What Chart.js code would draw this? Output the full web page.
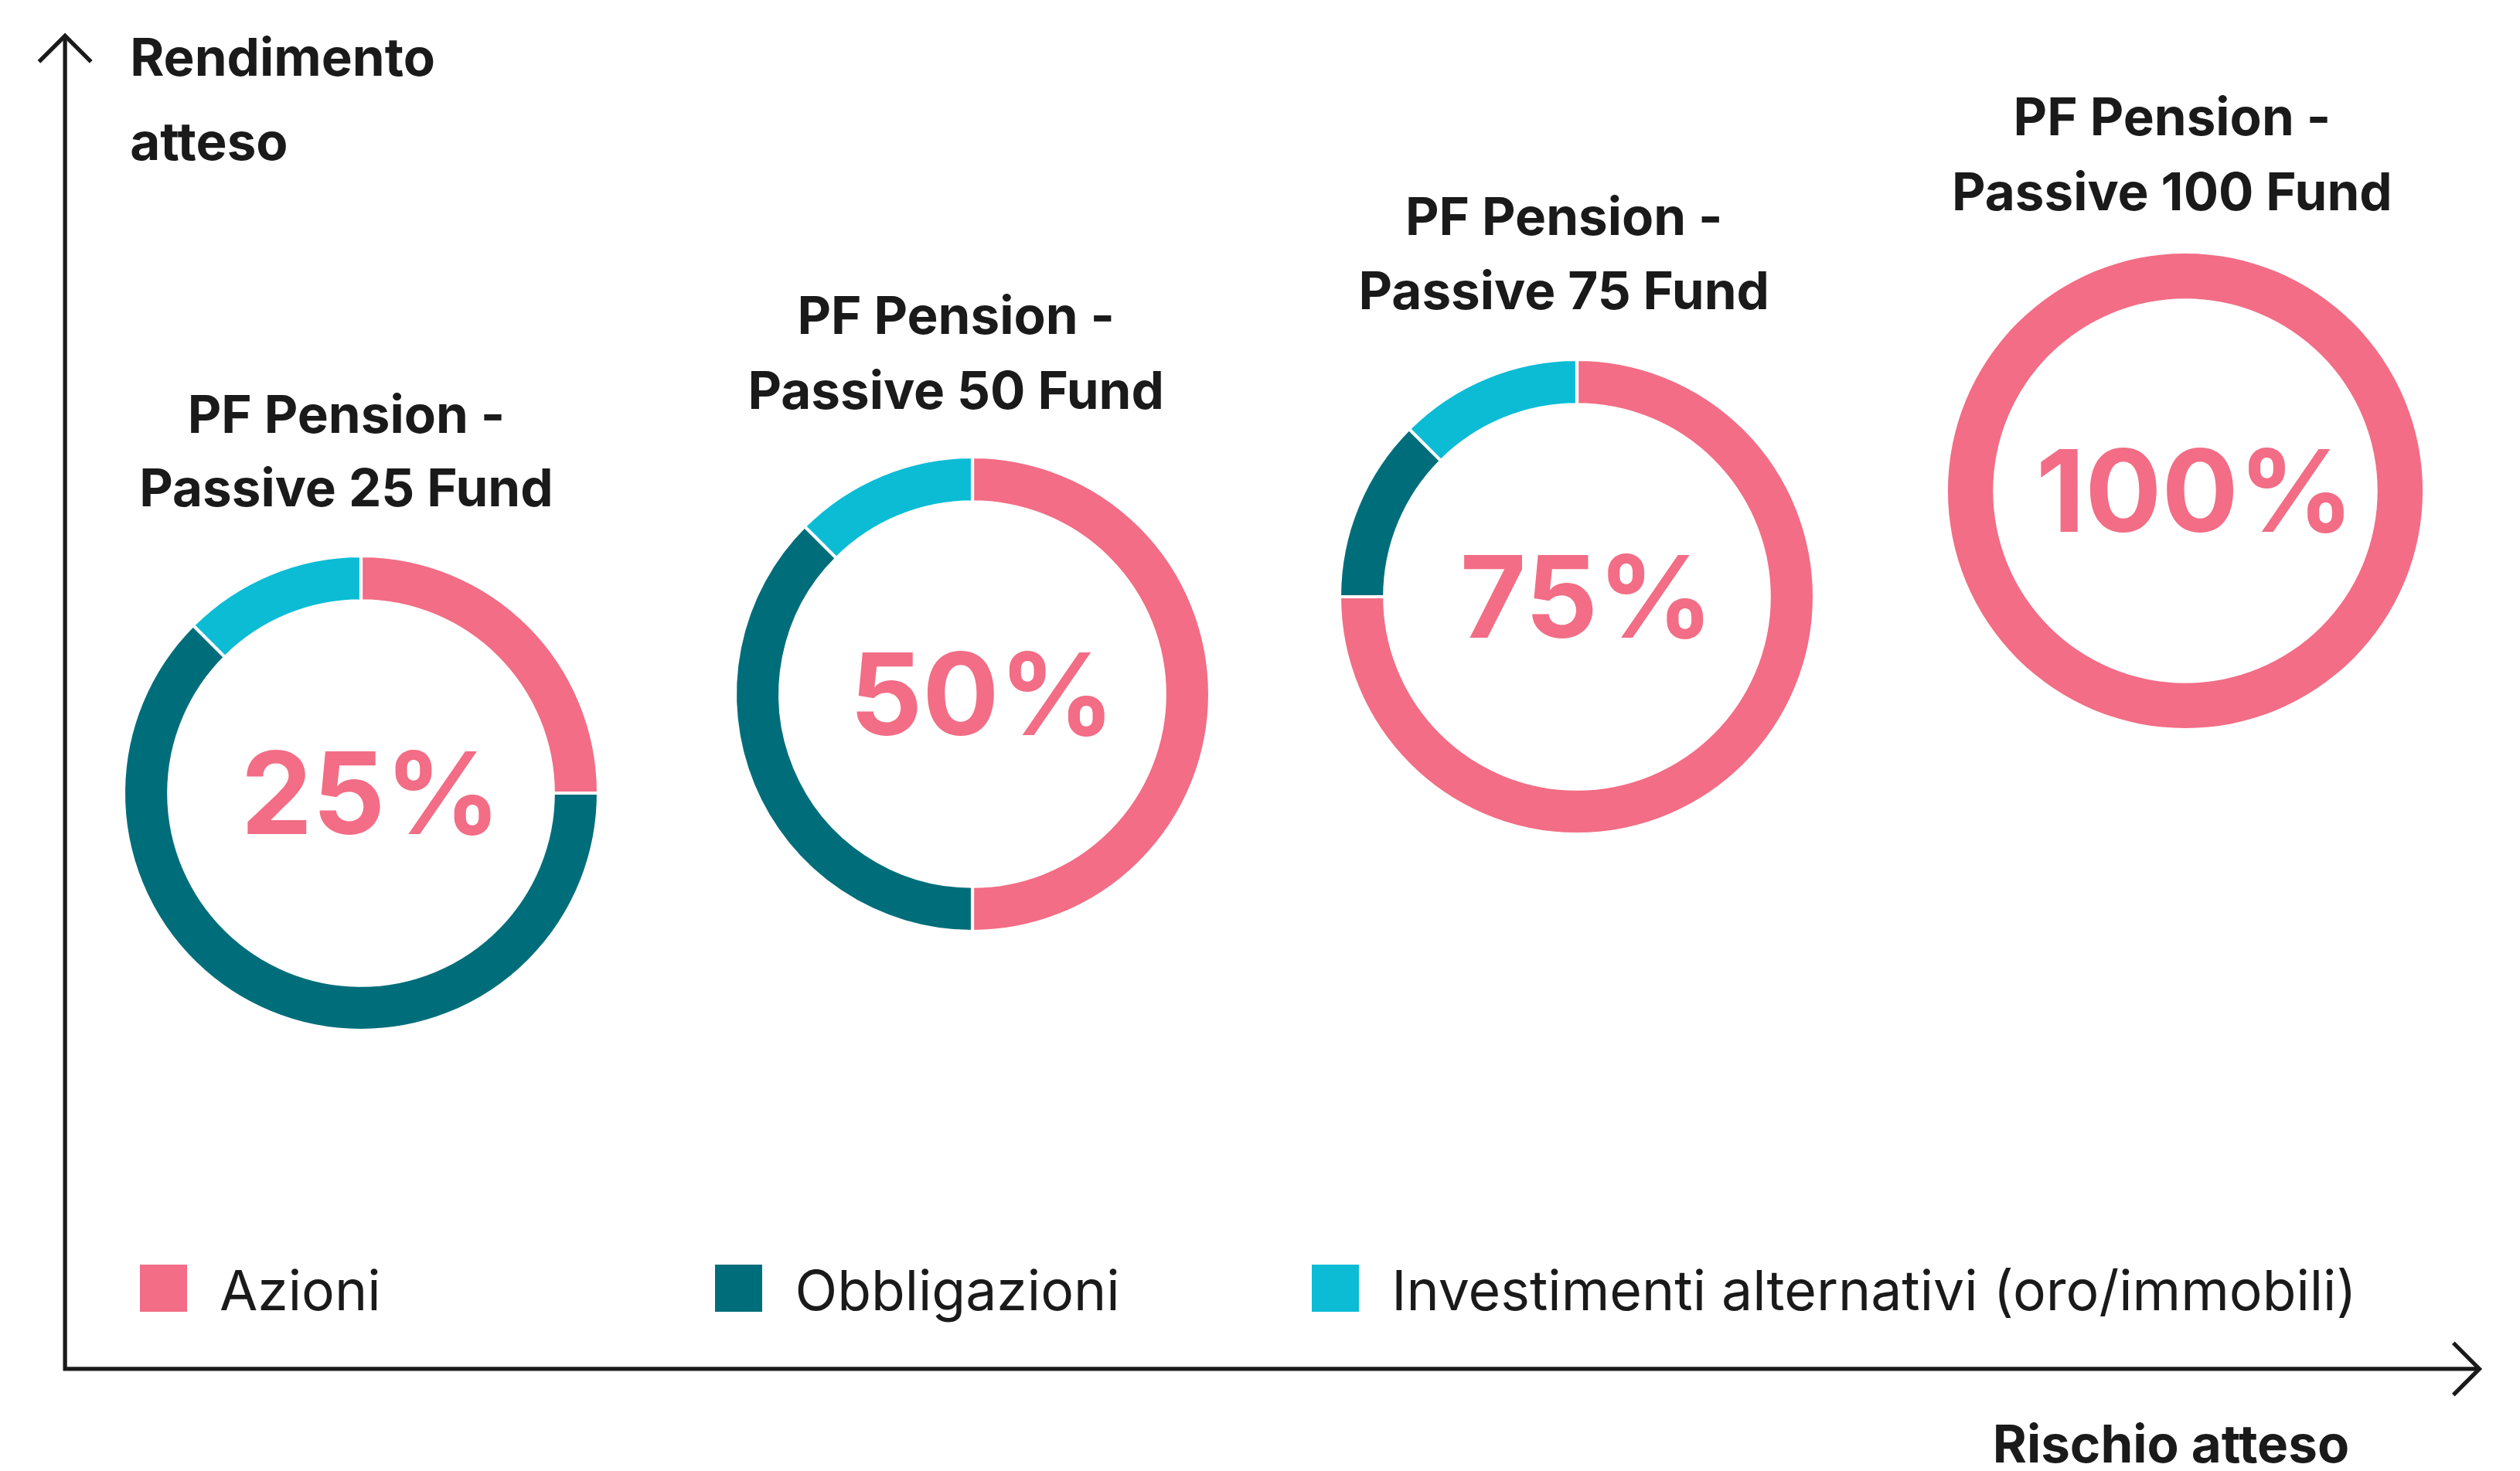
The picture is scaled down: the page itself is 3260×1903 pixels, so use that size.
<!DOCTYPE html>
<html>
<head>
<meta charset="utf-8">
<script src="https://cdn.jsdelivr.net/npm/chart.js@4"></script>
<style>
    body { margin: 0; background: #fff; font-family: Inter, "Noto Sans", sans-serif; color: #1a1a1a; }
    #stage { position: relative; width: 3260px; height: 1903px; overflow: hidden; }
    .abs { position: absolute; }
    .title { font-weight: 700; text-align: center; white-space: nowrap; }
    .legend { font-weight: 400; white-space: nowrap; }
</style>
</head>
<body>
<div id="stage">
    <canvas id="axes" class="abs" width="3260" height="1903" style="left:0;top:0"></canvas>
</div>
<script>
// data
const funds = ['PF Pension - Passive 25 Fund', 'PF Pension - Passive 50 Fund', 'PF Pension - Passive 75 Fund', 'PF Pension - Passive 100 Fund'];
const categories = ['Azioni', 'Obbligazioni', 'Investimenti alternativi (oro/immobili)'];
const azioni = [25, 50, 75, 100];
const obbligazioni = [62.5, 37.5, 12.5, 0];
const alternativi = [12.5, 12.5, 12.5, 0];
const centerLabels = ['25%', '50%', '75%', '100%'];
const colors = ['#F26D85', '#006E7A', '#0CBCD5'];

const S = 3260 / 1550;
const stage = document.getElementById('stage');

// layout in reference display units
const centers = [[222, 488], [598, 427], [970, 367], [1344, 302]];
const titleY = [[255, 300], [194, 240], [133, 179], [72, 118]];
const titleX = [213, 588, 962, 1336];
const R = 146;

function addText(txt, x, y, size, cls, align) {
    const d = document.createElement('div');
    d.className = 'abs ' + cls;
    d.textContent = txt;
    d.style.fontSize = (size * S) + 'px';
    d.style.lineHeight = '1';
    d.style.top = (y * S) + 'px';
    if (align === 'center') {
        d.style.left = (x * S) + 'px';
        d.style.transform = 'translate(-50%, -50%)';
    } else if (align === 'right') {
        d.style.right = (3260 - x * S) + 'px';
        d.style.transform = 'translateY(-50%)';
    } else {
        d.style.left = (x * S) + 'px';
        d.style.transform = 'translateY(-50%)';
    }
    stage.appendChild(d);
}

const centerText = {
    id: 'centerText',
    afterDraw(chart, args, opts) {
        const ctx = chart.ctx;
        const a = chart.getDatasetMeta(0).data[0];
        ctx.save();
        ctx.fillStyle = colors[0];
        ctx.font = '700 ' + (70 * S) + 'px Inter, sans-serif';
        ctx.textAlign = 'center';
        ctx.textBaseline = 'middle';
        ctx.fillText(opts.text, a.x + 6 * S, a.y + 4 * S);
        ctx.restore();
    }
};

funds.forEach((name, i) => {
    const size = (R + 10) * 2 * S;
    const c = document.createElement('canvas');
    c.className = 'abs';
    c.width = size;
    c.height = size;
    c.style.left = (centers[i][0] * S - size / 2) + 'px';
    c.style.top = (centers[i][1] * S - size / 2) + 'px';
    stage.appendChild(c);
    new Chart(c.getContext('2d'), {
        type: 'doughnut',
        data: {
            labels: categories,
            datasets: [{
                data: [azioni[i], obbligazioni[i], alternativi[i]],
                backgroundColor: colors,
                borderColor: '#fff',
                borderWidth: azioni[i] === 100 ? 0 : 2 * S,
                radius: R * S,
                cutout: '81%'
            }]
        },
        options: {
            responsive: false,
            animation: false,
            plugins: { legend: { display: false }, tooltip: { enabled: false }, centerText: { text: centerLabels[i] } }
        },
        plugins: [centerText]
    });
    const parts = name.split(' - ');
    addText(parts[0] + ' -', titleX[i], titleY[i][0], 32, 'title', 'center');
    addText(parts[1], titleX[i], titleY[i][1], 32, 'title', 'center');
});

// axis labels
addText('Rendimento', 80, 35, 32, 'title', 'left');
addText('atteso', 80, 87, 32, 'title', 'left');
addText('Rischio atteso', 1445, 888, 32, 'title', 'right');

// legend
const legendX = [86, 440, 807];
categories.forEach((cat, i) => {
    const sq = document.createElement('div');
    sq.className = 'abs';
    sq.style.left = (legendX[i] * S) + 'px';
    sq.style.top = (778 * S) + 'px';
    sq.style.width = (29 * S) + 'px';
    sq.style.height = (29 * S) + 'px';
    sq.style.background = colors[i];
    stage.appendChild(sq);
    addText(cat, legendX[i] + 49, 794, 34, 'legend', 'left');
});

// axes with open arrowheads
const ctx = document.getElementById('axes').getContext('2d');
ctx.strokeStyle = '#1a1a1a';
ctx.lineWidth = 2.5 * S;
ctx.lineJoin = 'miter';
ctx.beginPath();
ctx.moveTo(40 * S, 22 * S);
ctx.lineTo(40 * S, 842 * S);
ctx.lineTo(1525 * S, 842 * S);
ctx.stroke();
ctx.beginPath();
ctx.moveTo(24 * S, 38 * S);
ctx.lineTo(40 * S, 22 * S);
ctx.lineTo(56 * S, 38 * S);
ctx.moveTo(1509 * S, 826 * S);
ctx.lineTo(1525 * S, 842 * S);
ctx.lineTo(1509 * S, 858 * S);
ctx.stroke();
</script>
</body>
</html>
